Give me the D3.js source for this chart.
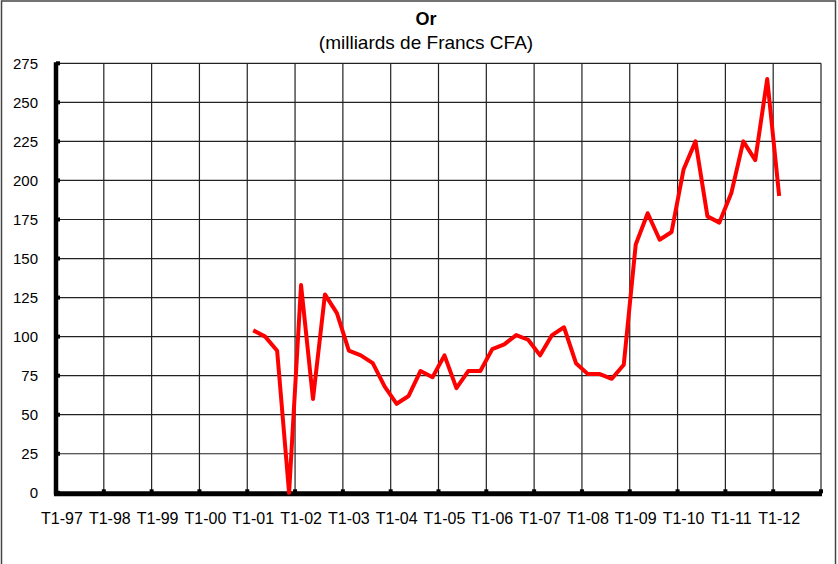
<!DOCTYPE html>
<html><head><meta charset="utf-8">
<script src="https://cdn.jsdelivr.net/npm/d3@7"></script>
<style>body{margin:0;background:#fff}svg{display:block}text{font-family:"Liberation Sans",Arial,sans-serif;fill:#000}</style>
</head><body><svg id="c" width="838" height="564"></svg>
<script>
const years = ["97","98","99","00","01","02","03","04","05","06","07","08","09","10","11","12"];
const categories = [];
years.forEach(y => { for (let q = 1; q <= 4; q++) categories.push("T" + q + "-" + y); });
const firstCategory = "T1-01";
const values = [104,100,91,0,133,60,127,115,91,88,83,68,57,62,78,74,88,67,78,78,92,95,101,98,88,101,106,83,76,76,73,82,159,179,162,167,207,225,177,173,192,225,213,265,190];
const yTicks = [0,25,50,75,100,125,150,175,200,225,250,275];
const title = "Or";
const subtitle = "(milliards de Francs CFA)";

const startIdx = categories.indexOf(firstCategory);
const data = values.map((v,i) => ({cat: categories[startIdx + i], v}));
const tickCats = categories.filter(c => c.startsWith("T1-"));

const svg = d3.select("#c");
const L = 56, R = 821, T = 63.3, B = 492.8;
const x = d3.scaleBand().domain(categories).range([L, R]).padding(0);
const y = d3.scaleLinear().domain([0, 275]).range([B, T]);

// outer border
svg.append("rect").attr("x",1.5).attr("y",1).attr("width",834).attr("height",580)
  .attr("fill","none").attr("stroke","#444").attr("stroke-width",1.5);

// title
svg.append("text").attr("x",426).attr("y",25).attr("text-anchor","middle")
  .style("font-weight","bold").style("font-size","18px").text(title);
svg.append("text").attr("x",426).attr("y",49).attr("text-anchor","middle")
  .style("font-size","19px").text(subtitle);

// horizontal gridlines
svg.append("g").selectAll("line").data(yTicks.filter(d=>d>0)).join("line")
  .attr("x1",L).attr("x2",R).attr("y1",d=>y(d)).attr("y2",d=>y(d))
  .attr("stroke","#222").attr("stroke-width",1.2);
// vertical gridlines at year boundaries
const vgrid = tickCats.map(c => x(c)).concat([R]).filter(v => v > L + 1);
svg.append("g").selectAll("line").data(vgrid).join("line")
  .attr("x1",d=>d).attr("x2",d=>d).attr("y1",T).attr("y2",B)
  .attr("stroke","#222").attr("stroke-width",1.2);

// y axis
const yAxis = d3.axisLeft(y).tickValues(yTicks).tickSize(0).tickPadding(18);
const gy = svg.append("g").attr("transform",`translate(${L},0)`).call(yAxis);
gy.select(".domain").remove();
gy.selectAll("text").style("font-size","15px").attr("fill","#000");
svg.append("line").attr("x1",L).attr("x2",L).attr("y1",T-1).attr("y2",B+2)
  .attr("stroke","#000").attr("stroke-width",4.5);
svg.append("g").selectAll("rect").data(yTicks).join("rect")
  .attr("x",L).attr("y",d=>y(d)-2).attr("width",4).attr("height",4).attr("fill","#000");

// x axis
const xAxis = d3.axisBottom(x).tickValues(tickCats).tickSize(0).tickPadding(20);
const gx = svg.append("g").attr("transform",`translate(0,${B})`).call(xAxis);
gx.select(".domain").remove();
gx.selectAll("text").style("font-size","16px").attr("fill","#000");
svg.append("line").attr("x1",L-2).attr("x2",R+1).attr("y1",B+1).attr("y2",B+1)
  .attr("stroke","#000").attr("stroke-width",5);
svg.append("g").selectAll("rect").data(tickCats.map(c=>x(c)).concat([R])).join("rect")
  .attr("x",d=>d-2).attr("y",B-3.5).attr("width",4).attr("height",4).attr("fill","#000");

// line
const line = d3.line().x(d => x(d.cat) + x.bandwidth()/2).y(d => y(d.v));
svg.append("path").datum(data).attr("d",line).attr("fill","none")
  .attr("stroke","#ff0000").attr("stroke-width",4).attr("stroke-linejoin","round");
</script></body></html>
